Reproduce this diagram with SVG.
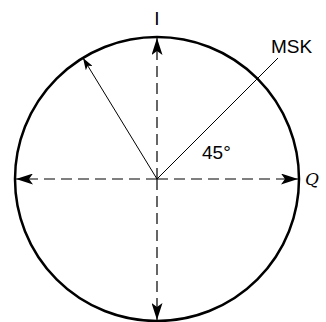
<svg xmlns="http://www.w3.org/2000/svg" width="326" height="322" viewBox="0 0 326 322">
<defs>
<marker id="ah" viewBox="0 0 17 11" refX="17" refY="5.5" markerWidth="17" markerHeight="11" markerUnits="userSpaceOnUse" orient="auto"><path d="M0,0 L17,5.5 L0,11 L4,5.5 Z" fill="#000"/></marker>
<marker id="ahs" viewBox="0 0 12 8" refX="12" refY="4" markerWidth="12" markerHeight="8" markerUnits="userSpaceOnUse" orient="auto"><path d="M0,0 L12,4 L0,8 L3,4 Z" fill="#000"/></marker>
</defs>
<style>
.ax{stroke:#000;stroke-width:1.2;stroke-dasharray:11 6;fill:none}
.ln{stroke:#000;stroke-width:1;fill:none}
.t{font-family:"Liberation Sans",Arial,sans-serif;font-size:19px;fill:#000}
</style>
<g id="circle"><circle cx="157" cy="179" r="142" fill="none" stroke="#000" stroke-width="2.5"/></g>
<g id="connectors">
<line class="ax" x1="157" y1="179" x2="157" y2="38" marker-end="url(#ah)"/>
<line class="ax" x1="157" y1="179" x2="157" y2="320" marker-end="url(#ah)"/>
<line class="ax" x1="157" y1="179" x2="16" y2="179" marker-end="url(#ah)"/>
<line class="ax" x1="157" y1="179" x2="298" y2="179" marker-end="url(#ah)"/>
<line class="ln" x1="157" y1="179" x2="83" y2="58" marker-end="url(#ahs)"/>
<line class="ln" x1="157" y1="179" x2="278" y2="58"/>
</g>
<g id="labels">
<text class="t" x="157" y="25" text-anchor="middle">I</text>
<text class="t" x="271" y="53">MSK</text>
<text class="t" x="202" y="159">45°</text>
<text x="305" y="185" style="font-family:'DejaVu Serif',serif;font-style:italic;font-size:17px">Q</text>
</g>
</svg>
